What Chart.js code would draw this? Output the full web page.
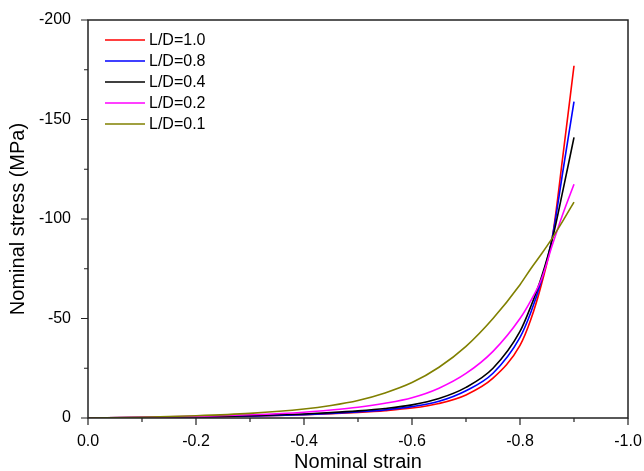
<!DOCTYPE html>
<html>
<head>
<meta charset="utf-8">
<script src="https://cdn.jsdelivr.net/npm/chart.js@4.4.1/dist/chart.umd.min.js"></script>
<style>
  html, body { margin: 0; padding: 0; background: #fff; }
  #wrap { width: 644px; height: 471px; position: relative; }
</style>
</head>
<body>
<div id="wrap"><canvas id="stressChart"></canvas></div>
<script>
// 공칭 변형률 (절대값, 그래프에는 음수로 표시)
const strain = [0, 0.1, 0.2, 0.3, 0.4, 0.45, 0.5, 0.55, 0.6, 0.65, 0.7, 0.75, 0.8, 0.82, 0.84, 0.86, 0.88, 0.9];

// 공칭 응력 (MPa, 절대값)
const ld10 = [0, 0.2, 0.5, 0.9, 1.6, 2.1, 2.8, 3.7, 5.0, 7.3, 11.6, 20.0, 36.5, 49.5, 67.5, 91, 133, 177];
const ld08 = [0, 0.2, 0.5, 1.0, 1.7, 2.3, 3.1, 4.1, 5.7, 8.4, 13.7, 22.5, 40.5, 53.0, 69.5, 91, 125, 159];
const ld04 = [0, 0.2, 0.6, 1.1, 2.0, 2.7, 3.6, 4.8, 6.6, 9.8, 15.4, 25.0, 43.5, 56.0, 71.0, 90, 115, 141];
const ld02 = [0, 0.3, 0.8, 1.6, 2.9, 4.0, 5.4, 7.4, 10.2, 15.0, 22.4, 33.5, 50.0, 59.0, 70.0, 87, 103, 117.5];
const ld01 = [0, 0.4, 1.1, 2.3, 4.5, 6.3, 8.8, 12.6, 17.8, 25.5, 36.0, 50.0, 67.0, 75.0, 82.5, 90.5, 99.3, 108.5];

const seriesLabels = ['L/D=1.0', 'L/D=0.8', 'L/D=0.4', 'L/D=0.2', 'L/D=0.1'];
const seriesValues = [ld10, ld08, ld04, ld02, ld01];
const seriesColors = ['#ff0000', '#0000ff', '#000000', '#ff00ff', '#808000'];

const xTickStep = 0.1;
const yTickStep = 25;

const FONT = "'Liberation Sans', Arial, sans-serif";

function toPoints(vals) {
    return strain.map((s, i) => ({ x: -s, y: -vals[i] }));
}

// 플롯 테두리 + 주/보조 눈금 + 범례
const framePlugin = {
    id: 'frame',
    afterDraw(chart) {
        const ctx = chart.ctx;
        const a = chart.chartArea;
        const xs = chart.scales.x;
        const ys = chart.scales.y;
        ctx.save();
        ctx.strokeStyle = '#222';
        ctx.lineWidth = 1.5;
        ctx.strokeRect(a.left, a.top, a.right - a.left, a.bottom - a.top);
        ctx.lineWidth = 1.2;
        ctx.beginPath();
        xs.ticks.forEach(t => {
            const px = xs.getPixelForValue(t.value);
            const major = Math.round(Math.abs(t.value) * 10) % 2 === 0;
            ctx.moveTo(px, a.bottom);
            ctx.lineTo(px, a.bottom + (major ? 7 : 4));
        });
        ys.ticks.forEach(t => {
            const py = ys.getPixelForValue(t.value);
            const major = Math.round(Math.abs(t.value)) % 50 === 0;
            ctx.moveTo(a.left, py);
            ctx.lineTo(a.left - (major ? 7 : 4), py);
        });
        ctx.stroke();

        ctx.font = '16px ' + FONT;
        ctx.textBaseline = 'middle';
        ctx.textAlign = 'left';
        chart.data.datasets.forEach((ds, i) => {
            const y = 40 + i * 21;
            ctx.strokeStyle = ds.borderColor;
            ctx.lineWidth = 1.5;
            ctx.beginPath();
            ctx.moveTo(105, y);
            ctx.lineTo(145, y);
            ctx.stroke();
            ctx.fillStyle = '#000';
            ctx.fillText(ds.label, 149, y + 1);
        });
        ctx.restore();
    }
};

document.addEventListener('DOMContentLoaded', function() {
    const ctx = document.getElementById('stressChart');
    new Chart(ctx.getContext('2d'), {
        type: 'scatter',
        data: {
            datasets: seriesLabels.map((label, i) => ({
                label: label,
                data: toPoints(seriesValues[i]),
                borderColor: seriesColors[i],
                backgroundColor: seriesColors[i],
                showLine: true,
                borderWidth: 1.6,
                pointRadius: 0,
                cubicInterpolationMode: 'monotone',
                order: 4 - i
            }))
        },
        options: {
            responsive: true,
            maintainAspectRatio: false,
            animation: false,
            layout: { padding: { top: 20, right: 0, left: 0, bottom: 0 } },
            plugins: {
                legend: { display: false },
                tooltip: { enabled: false }
            },
            scales: {
                x: {
                    type: 'linear',
                    min: -1,
                    max: 0,
                    reverse: true,
                    grid: { display: false },
                    border: { display: false },
                    afterFit: s => { s.height = 53; s.paddingRight = 16; },
                    ticks: {
                        stepSize: xTickStep,
                        autoSkip: false,
                        maxRotation: 0,
                        padding: 6,
                        color: '#000',
                        font: { family: FONT, size: 16 },
                        callback: v => (Math.round(Math.abs(v) * 10) % 2 === 0 ? (Math.abs(v) < 1e-9 ? '0.0' : v.toFixed(1)) : '')
                    },
                    title: {
                        display: true,
                        text: 'Nominal strain',
                        color: '#000',
                        font: { family: FONT, size: 20 },
                        padding: { top: 0, bottom: -3 }
                    }
                },
                y: {
                    type: 'linear',
                    min: -200,
                    max: 0,
                    reverse: true,
                    grid: { display: false },
                    border: { display: false },
                    afterFit: s => { s.width = 88; },
                    ticks: {
                        stepSize: yTickStep,
                        autoSkip: false,
                        padding: 9,
                        color: '#000',
                        font: { family: FONT, size: 16 },
                        callback: v => (Math.round(Math.abs(v)) % 50 === 0 ? String(Math.round(v)) : '')
                    },
                    title: {
                        display: true,
                        text: 'Nominal stress (MPa)',
                        color: '#000',
                        font: { family: FONT, size: 20 },
                        padding: { top: 6, bottom: 0 }
                    }
                }
            }
        },
        plugins: [framePlugin]
    });
});
</script>
</body>
</html>
